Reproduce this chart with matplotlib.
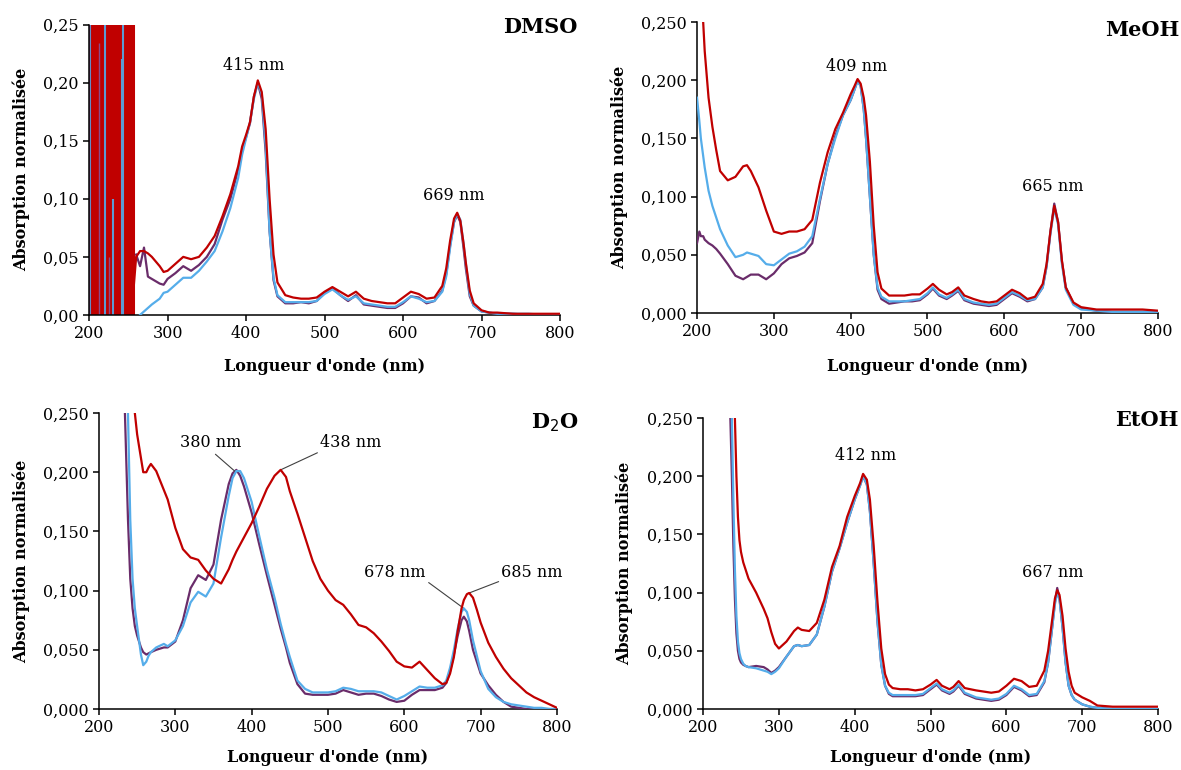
import numpy as np
import matplotlib
matplotlib.use("Agg")
import matplotlib.pyplot as plt
from matplotlib.ticker import FuncFormatter, MultipleLocator

plt.rcParams['font.family'] = ['DejaVu Serif']

RED = '#C00000'
PURPLE = '#6A2C6A'
BLUE = '#55ADEA'

# ---------------- DMSO ----------------
dmso_wl = [257, 260, 265, 270, 275, 280, 290, 295, 300, 310, 320, 330, 340, 350, 360, 370,
           380, 390, 395, 400, 405, 410, 415, 420, 425, 430, 435, 440, 450, 460, 470, 480,
           490, 500, 510, 520, 530, 540, 550, 560, 570, 580, 590, 600, 610, 620, 630, 640,
           650, 655, 660, 665, 669, 673, 677, 680, 685, 690, 700, 710, 720, 740, 760, 780, 800]
dmso_red = [0.025, 0.050, 0.055, 0.055, 0.053, 0.050, 0.042, 0.037, 0.038, 0.044, 0.050, 0.048,
            0.050, 0.058, 0.068, 0.085, 0.104, 0.128, 0.145, 0.155, 0.166, 0.188, 0.202, 0.192,
            0.160, 0.100, 0.052, 0.028, 0.017, 0.015, 0.014, 0.014, 0.015, 0.020, 0.024, 0.020,
            0.016, 0.020, 0.014, 0.012, 0.011, 0.010, 0.010, 0.015, 0.020, 0.018, 0.014, 0.015,
            0.025, 0.040, 0.064, 0.083, 0.088, 0.081, 0.062, 0.045, 0.021, 0.010, 0.004, 0.002,
            0.002, 0.001, 0.001, 0.001, 0.001]
dmso_purple = [np.nan, 0.052, 0.042, 0.058, 0.033, 0.031, 0.027, 0.026, 0.031, 0.036, 0.042,
               0.038, 0.043, 0.050, 0.061, 0.082, 0.100, 0.125, 0.142, 0.153, 0.165, 0.188, 0.200,
               0.186, 0.140, 0.072, 0.030, 0.016, 0.010, 0.010, 0.011, 0.010, 0.012, 0.019, 0.023,
               0.017, 0.012, 0.017, 0.009, 0.008, 0.007, 0.006, 0.006, 0.010, 0.016, 0.015, 0.010,
               0.012, 0.021, 0.035, 0.060, 0.080, 0.086, 0.080, 0.058, 0.040, 0.016, 0.008, 0.003,
               0.002, 0.001, 0.001, 0.000, 0.000, 0.000]
dmso_blue = [np.nan, np.nan, 0.000, 0.003, 0.006, 0.009, 0.014, 0.019, 0.020, 0.026, 0.032,
             0.032, 0.038, 0.046, 0.055, 0.072, 0.092, 0.118, 0.138, 0.152, 0.166, 0.186, 0.200,
             0.190, 0.146, 0.072, 0.032, 0.017, 0.011, 0.011, 0.011, 0.011, 0.012, 0.018, 0.022,
             0.017, 0.013, 0.016, 0.010, 0.009, 0.008, 0.007, 0.007, 0.011, 0.016, 0.014, 0.011,
             0.012, 0.020, 0.033, 0.058, 0.080, 0.087, 0.082, 0.062, 0.044, 0.018, 0.008, 0.003,
             0.002, 0.001, 0.001, 0.001, 0.000, 0.000]
# saturated noisy region below 256 nm (DMSO cut-off)
dmso_red_noise_wl = list(np.arange(202, 257))
dmso_red_noise = [0.31, 0.30, 0.32, 0.30, 0.31, 0.29, 0.30, 0.33, 0.31, 0.30, 0.32, 0.30, 0.31,
                  0.30, 0.29, 0.31, 0.30, 0.32, 0.30, 0.31, 0.30, 0.31, 0.33, 0.30, 0.29, 0.31,
                  0.30, 0.32, 0.30, 0.31, 0.30, 0.29, 0.31, 0.30, 0.32, 0.31, 0.30, 0.30, 0.31,
                  0.33, 0.30, 0.29, 0.31, 0.30, 0.32, 0.30, 0.31, 0.30, 0.29, 0.31, 0.30, 0.32,
                  0.30, 0.31, 0.30]
dmso_blue_spike_wl = [201.3, 220.4, 231.1, 241.7, 243.7]
dmso_blue_spike = [0.30, 0.30, 0.10, 0.22, 0.30]
dmso_purple_spike_wl = [200.4, 213.0, 226.0]
dmso_purple_spike = [0.30, 0.234, 0.05]

# ---------------- MeOH ----------------
meoh_wl = [200, 203, 205, 208, 210, 215, 220, 225, 230, 240, 250, 260, 265, 270, 280, 290, 300,
           310, 320, 330, 340, 350, 360, 370, 380, 390, 400, 405, 409, 413, 417, 420, 425, 430,
           435, 440, 450, 460, 470, 480, 490, 500, 507, 515, 525, 532, 540, 548, 560, 570, 580,
           590, 600, 610, 620, 630, 640, 650, 655, 660, 665, 670, 675, 680, 690, 700, 720, 740,
           760, 780, 800]
meoh_red = [np.nan, np.nan, np.nan, 0.250, 0.225, 0.185, 0.160, 0.140, 0.122, 0.114, 0.117, 0.126,
            0.127, 0.122, 0.108, 0.088, 0.070, 0.068, 0.070, 0.070, 0.072, 0.080, 0.112, 0.138,
            0.158, 0.172, 0.188, 0.195, 0.201, 0.197, 0.185, 0.170, 0.130, 0.075, 0.035, 0.021,
            0.015, 0.015, 0.015, 0.016, 0.016, 0.021, 0.025, 0.020, 0.016, 0.018, 0.022, 0.015,
            0.012, 0.010, 0.009, 0.010, 0.015, 0.020, 0.017, 0.012, 0.014, 0.025, 0.042, 0.070,
            0.092, 0.078, 0.045, 0.022, 0.009, 0.005, 0.003, 0.003, 0.003, 0.003, 0.002]
meoh_purple = [0.060, 0.070, 0.066, 0.066, 0.063, 0.060, 0.058, 0.055, 0.051, 0.042, 0.032, 0.029,
               0.031, 0.033, 0.033, 0.029, 0.034, 0.042, 0.047, 0.049, 0.052, 0.060, 0.096, 0.128,
               0.152, 0.170, 0.183, 0.192, 0.200, 0.195, 0.175, 0.150, 0.100, 0.050, 0.020, 0.012,
               0.008, 0.009, 0.010, 0.010, 0.011, 0.016, 0.021, 0.015, 0.012, 0.015, 0.019, 0.011,
               0.008, 0.007, 0.006, 0.007, 0.012, 0.017, 0.014, 0.010, 0.012, 0.022, 0.040, 0.070,
               0.094, 0.078, 0.044, 0.022, 0.008, 0.004, 0.002, 0.001, 0.001, 0.001, 0.001]
meoh_blue = [0.185, 0.165, 0.150, 0.135, 0.125, 0.105, 0.092, 0.082, 0.072, 0.058, 0.048, 0.050,
             0.052, 0.051, 0.049, 0.042, 0.041, 0.046, 0.051, 0.053, 0.057, 0.066, 0.098, 0.128,
             0.150, 0.170, 0.183, 0.192, 0.199, 0.195, 0.175, 0.150, 0.100, 0.050, 0.022, 0.014,
             0.010, 0.010, 0.010, 0.011, 0.012, 0.017, 0.022, 0.016, 0.013, 0.016, 0.020, 0.012,
             0.009, 0.008, 0.007, 0.008, 0.013, 0.018, 0.015, 0.011, 0.012, 0.022, 0.040, 0.068,
             0.090, 0.076, 0.042, 0.020, 0.007, 0.003, 0.002, 0.001, 0.001, 0.001, 0.001]

# ---------------- D2O ----------------
d2o_wl = [234, 238, 241, 244, 247, 250, 255, 258, 262, 265, 268, 275, 285, 290, 300, 310, 320,
          330, 340, 350, 360, 370, 375, 380, 385, 390, 400, 410, 420, 430, 438, 445, 450, 460,
          470, 480, 490, 500, 510, 520, 530, 540, 550, 560, 570, 580, 590, 600, 610, 620, 630,
          640, 650, 655, 660, 665, 670, 675, 678, 682, 685, 690, 695, 700, 710, 720, 730, 740,
          750, 760, 770, 780, 790, 800]
d2o_red = [np.nan, np.nan, np.nan, np.nan, 0.250, 0.232, 0.212, 0.200, 0.200, 0.204, 0.207, 0.201,
           0.185, 0.177, 0.153, 0.135, 0.128, 0.126, 0.117, 0.110, 0.106, 0.118, 0.126, 0.133,
           0.139, 0.145, 0.157, 0.171, 0.186, 0.197, 0.202, 0.196, 0.184, 0.165, 0.145, 0.125,
           0.110, 0.100, 0.092, 0.088, 0.080, 0.071, 0.069, 0.064, 0.057, 0.049, 0.040, 0.036,
           0.035, 0.040, 0.033, 0.026, 0.021, 0.022, 0.030, 0.044, 0.066, 0.085, 0.092, 0.097,
           0.098, 0.094, 0.084, 0.073, 0.056, 0.044, 0.034, 0.026, 0.020, 0.014, 0.010, 0.007,
           0.004, 0.001]
d2o_purple = [0.250, 0.160, 0.110, 0.085, 0.070, 0.062, 0.052, 0.048, 0.046, 0.047, 0.048, 0.050,
              0.052, 0.052, 0.057, 0.075, 0.102, 0.113, 0.109, 0.122, 0.160, 0.190, 0.199, 0.202,
              0.197, 0.188, 0.166, 0.139, 0.113, 0.088, 0.068, 0.052, 0.039, 0.021, 0.013, 0.012,
              0.012, 0.012, 0.013, 0.016, 0.014, 0.012, 0.013, 0.013, 0.011, 0.008, 0.006, 0.007,
              0.012, 0.016, 0.016, 0.016, 0.018, 0.022, 0.032, 0.046, 0.062, 0.075, 0.078, 0.074,
              0.066, 0.050, 0.040, 0.030, 0.020, 0.012, 0.006, 0.002, 0.001, 0.000, 0.000, 0.000,
              0.000, 0.000]
d2o_blue = [np.nan, 0.250, 0.160, 0.110, 0.085, 0.070, 0.046, 0.037, 0.040, 0.045, 0.048, 0.052,
            0.055, 0.053, 0.058, 0.070, 0.090, 0.099, 0.095, 0.106, 0.145, 0.180, 0.195, 0.201,
            0.201, 0.195, 0.175, 0.146, 0.118, 0.094, 0.072, 0.055, 0.044, 0.024, 0.017, 0.014,
            0.014, 0.014, 0.015, 0.018, 0.017, 0.015, 0.015, 0.015, 0.014, 0.011, 0.008, 0.011,
            0.015, 0.019, 0.018, 0.018, 0.020, 0.024, 0.035, 0.050, 0.068, 0.082, 0.085, 0.082,
            0.075, 0.058, 0.045, 0.032, 0.017, 0.010, 0.006, 0.004, 0.003, 0.002, 0.001, 0.001,
            0.000, 0.000]

# ---------------- EtOH ----------------
etoh_wl = [236, 238, 240, 242, 244, 246, 248, 250, 253, 256, 260, 270, 280, 285, 290, 295, 300,
           310, 320, 325, 330, 340, 350, 360, 370, 380, 390, 400, 407, 411, 416, 420, 425, 430,
           435, 440, 445, 450, 460, 470, 480, 490, 500, 508, 515, 525, 530, 537, 545, 560, 570,
           580, 590, 600, 610, 620, 630, 640, 650, 655, 660, 664, 667, 670, 674, 678, 682, 686,
           690, 700, 710, 720, 740, 760, 780, 800]
etoh_red = [np.nan, np.nan, np.nan, 0.250, 0.200, 0.165, 0.145, 0.135, 0.126, 0.120, 0.112, 0.100,
            0.086, 0.078, 0.066, 0.056, 0.052, 0.058, 0.067, 0.070, 0.068, 0.067, 0.074, 0.094,
            0.122, 0.140, 0.165, 0.183, 0.194, 0.202, 0.197, 0.180, 0.140, 0.092, 0.052, 0.030,
            0.021, 0.018, 0.017, 0.017, 0.016, 0.017, 0.021, 0.025, 0.020, 0.017, 0.019, 0.024,
            0.018, 0.016, 0.015, 0.014, 0.015, 0.020, 0.026, 0.024, 0.019, 0.020, 0.033, 0.050,
            0.075, 0.095, 0.102, 0.098, 0.080, 0.052, 0.032, 0.020, 0.014, 0.010, 0.007, 0.003,
            0.002, 0.002, 0.002, 0.002]
etoh_purple = [0.250, 0.200, 0.140, 0.095, 0.065, 0.050, 0.043, 0.040, 0.038, 0.037, 0.036, 0.037,
               0.036, 0.034, 0.031, 0.033, 0.036, 0.045, 0.054, 0.055, 0.054, 0.055, 0.064, 0.088,
               0.118, 0.138, 0.160, 0.180, 0.192, 0.200, 0.193, 0.170, 0.125, 0.075, 0.038, 0.020,
               0.013, 0.011, 0.011, 0.011, 0.011, 0.012, 0.017, 0.021, 0.016, 0.013, 0.015, 0.020,
               0.013, 0.009, 0.008, 0.007, 0.008, 0.012, 0.019, 0.016, 0.011, 0.012, 0.023, 0.040,
               0.068, 0.092, 0.104, 0.095, 0.070, 0.040, 0.020, 0.012, 0.008, 0.004, 0.002, 0.001,
               0.000, 0.000, 0.000, 0.000]
etoh_blue = [np.nan, 0.250, 0.180, 0.120, 0.080, 0.058, 0.048, 0.043, 0.039, 0.037, 0.036, 0.035,
             0.033, 0.032, 0.030, 0.032, 0.035, 0.045, 0.054, 0.055, 0.054, 0.055, 0.064, 0.088,
             0.118, 0.138, 0.160, 0.180, 0.192, 0.200, 0.193, 0.170, 0.125, 0.075, 0.038, 0.020,
             0.014, 0.012, 0.012, 0.012, 0.012, 0.013, 0.018, 0.022, 0.017, 0.014, 0.016, 0.021,
             0.014, 0.010, 0.009, 0.008, 0.009, 0.013, 0.020, 0.017, 0.012, 0.013, 0.024, 0.040,
             0.068, 0.090, 0.100, 0.094, 0.070, 0.040, 0.020, 0.012, 0.008, 0.004, 0.002, 0.001,
             0.000, 0.000, 0.000, 0.000]

# labels
panel_titles = ['DMSO', 'MeOH', 'D$_2$O', 'EtOH']
xlabel = "Longueur d'onde (nm)"
ylabel = "Absorption normalisée"

fig = plt.figure(figsize=(11.81, 7.70), dpi=100)

axes_rects = [
    (0.0754, 0.591, 0.3988, 0.377),
    (0.5902, 0.5935, 0.3903, 0.3779),
    (0.0838, 0.0792, 0.3878, 0.3844),
    (0.5953, 0.0792, 0.3853, 0.3779),
]
axs = [fig.add_axes(r) for r in axes_rects]

LW = 1.6
TICKFS = 11.5


def style(ax, decimals, ylab_x, xlab_y):
    ax.set_xlim(200, 800)
    ax.set_ylim(0, 0.25)
    ax.xaxis.set_major_locator(MultipleLocator(100))
    ax.yaxis.set_major_locator(MultipleLocator(0.05))
    ax.yaxis.set_major_formatter(FuncFormatter(
        lambda v, p: (f"{v:.{decimals}f}").replace('.', ',')))
    for s in ['top', 'right']:
        ax.spines[s].set_visible(False)
    for s in ['left', 'bottom']:
        ax.spines[s].set_linewidth(1.1)
        ax.spines[s].set_color('black')
    ax.tick_params(direction='out', length=4, width=1.1, labelsize=TICKFS, colors='black')
    ax.set_xlabel(xlabel, fontsize=11.5, fontweight='bold')
    ax.set_ylabel(ylabel, fontsize=11.5, fontweight='bold')
    ax.yaxis.set_label_coords(ylab_x, 0.5)
    ax.xaxis.set_label_coords(0.5, xlab_y)


def curves(ax, wl, purple, blue, red):
    ax.plot(wl, purple, color=PURPLE, lw=LW, zorder=3)
    ax.plot(wl, blue, color=BLUE, lw=LW, zorder=4)
    ax.plot(wl, red, color=RED, lw=LW, zorder=5)


ann_kw = dict(fontsize=11.5, ha='center', va='center')

# DMSO
ax = axs[0]
ax.vlines(dmso_red_noise_wl, 0, dmso_red_noise, color=RED, lw=2.2, zorder=1)
ax.vlines(dmso_blue_spike_wl, 0, dmso_blue_spike, color='#5B9BD5', lw=1.5, zorder=2)
ax.vlines(dmso_purple_spike_wl, 0, dmso_purple_spike, color='#8A4A8A', lw=1.0, zorder=2)
curves(ax, dmso_wl, dmso_purple, dmso_blue, dmso_red)
style(ax, 2, -0.125, -0.148)
ax.text(410, 0.215, '415 nm', **ann_kw)
ax.text(664, 0.1026, '669 nm', **ann_kw)
ax.text(1.038, 0.993, panel_titles[0], transform=ax.transAxes, ha='right', va='center',
        fontsize=15, fontweight='bold')

# MeOH
ax = axs[1]
curves(ax, meoh_wl, meoh_purple, meoh_blue, meoh_red)
style(ax, 3, -0.150, -0.155)
ax.text(408, 0.212, '409 nm', **ann_kw)
ax.text(663.5, 0.109, '665 nm', **ann_kw)
ax.text(1.046, 0.973, panel_titles[1], transform=ax.transAxes, ha='right', va='center',
        fontsize=15, fontweight='bold')

# D2O
ax = axs[2]
curves(ax, d2o_wl, d2o_purple, d2o_blue, d2o_red)
style(ax, 3, -0.151, -0.135)
line_kw = dict(arrowstyle='-', color='#404040', lw=0.8, shrinkA=0, shrinkB=0)
ax.annotate('380 nm', xy=(379.5, 0.200), xytext=(346.8, 0.2247),
            arrowprops=dict(relpos=(0.52, 0.0), **line_kw), **ann_kw)
ax.annotate('438 nm', xy=(438, 0.202), xytext=(530, 0.2247),
            arrowprops=dict(relpos=(0.0, 0.0), **line_kw), **ann_kw)
ax.annotate('678 nm', xy=(678, 0.085), xytext=(588, 0.1157),
            arrowprops=dict(relpos=(1.0, 0.0), **line_kw), **ann_kw)
ax.annotate('685 nm', xy=(685, 0.098), xytext=(767.5, 0.1157),
            arrowprops=dict(relpos=(0.0, 0.0), **line_kw), **ann_kw)
ax.text(1.046, 0.966, panel_titles[2], transform=ax.transAxes, ha='right', va='center',
        fontsize=15, fontweight='bold')

# EtOH
ax = axs[3]
curves(ax, etoh_wl, etoh_purple, etoh_blue, etoh_red)
style(ax, 3, -0.154, -0.137)
ax.text(415, 0.2174, '412 nm', **ann_kw)
ax.text(661.7, 0.1177, '667 nm', **ann_kw)
ax.text(1.046, 0.993, panel_titles[3], transform=ax.transAxes, ha='right', va='center',
        fontsize=15, fontweight='bold')

fig.savefig('out.png', dpi=100)
